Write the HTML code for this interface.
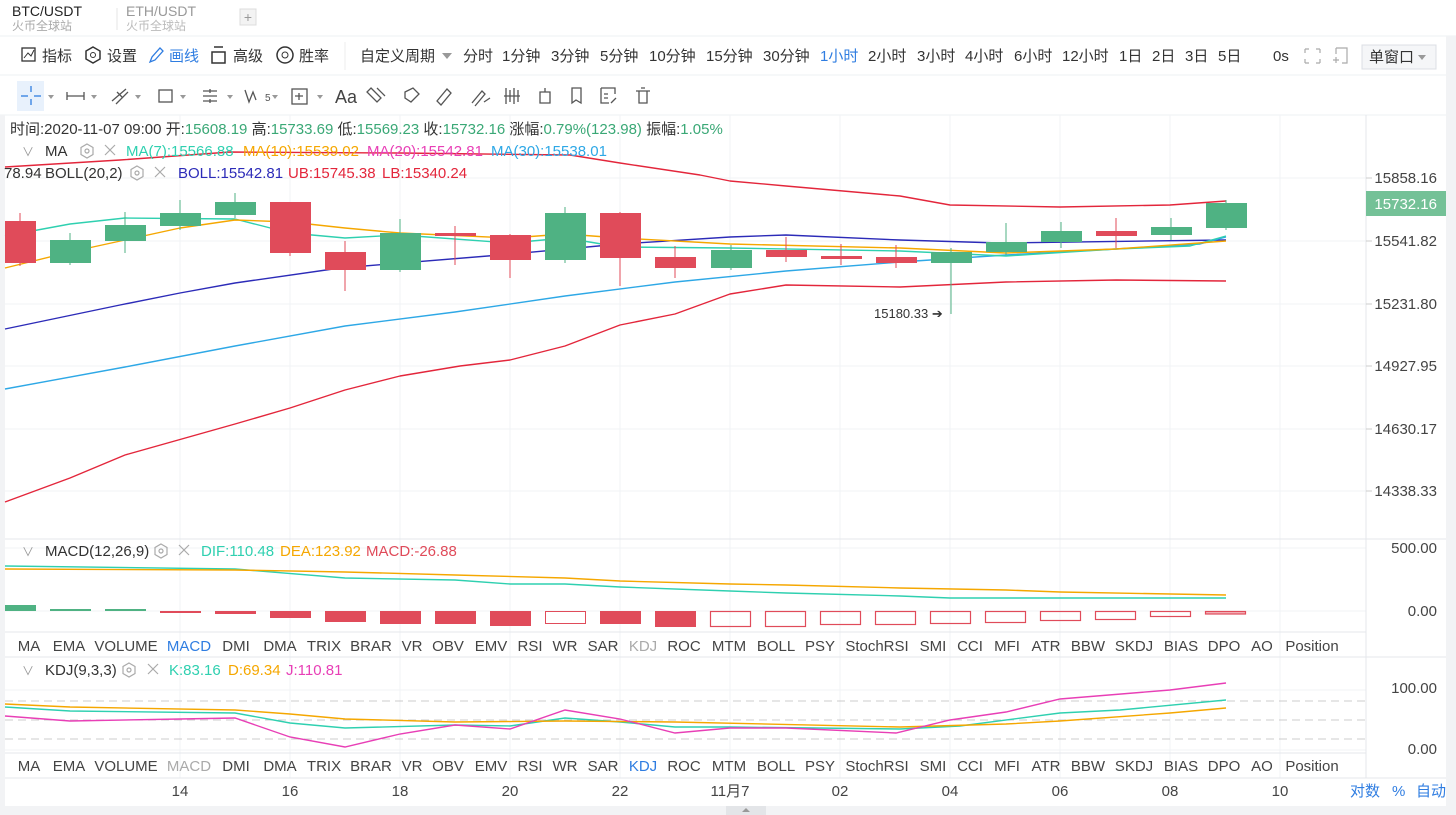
<!DOCTYPE html>
<html><head><meta charset="utf-8"><style>
html,body{margin:0;padding:0;background:#fff;}
svg{display:block;font-family:"Liberation Sans","Noto Sans CJK SC",sans-serif;}
</style></head><body>
<svg width="1456" height="815" viewBox="0 0 1456 815" xmlns="http://www.w3.org/2000/svg">
<rect width="1456" height="815" fill="#fff"/>
<!-- tabs -->
<text x="12" y="16" font-size="14" fill="#222">BTC/USDT</text>
<text x="12" y="30" font-size="12" fill="#aaa">火币全球站</text>
<line x1="117" y1="8" x2="117" y2="30" stroke="#e6e6e6"/>
<text x="126" y="16" font-size="14" fill="#999">ETH/USDT</text>
<text x="126" y="30" font-size="12" fill="#bbb">火币全球站</text>
<rect x="240" y="9" width="16" height="16" fill="#f3f3f3" stroke="#ddd"/>
<text x="248" y="22" font-size="14" fill="#999" text-anchor="middle">+</text>
<line x1="0" y1="36" x2="1456" y2="36" stroke="#eef0f3"/>
<line x1="0" y1="75" x2="1456" y2="75" stroke="#eef0f3"/>
<line x1="0" y1="115" x2="1456" y2="115" stroke="#eef0f3"/>
<!-- toolbar -->
<g font-size="15" fill="#333">
<rect x="22" y="48" width="13" height="13" fill="none" stroke="#333" stroke-width="1.3"/><polyline points="24,58 28,53 31,56 34,50" fill="none" stroke="#333"/>
<text x="42" y="61">指标</text>
<polygon points="93,47 100,51 100,59 93,63 86,59 86,51" fill="none" stroke="#333" stroke-width="1.5"/><circle cx="93" cy="55" r="2.5" fill="none" stroke="#333"/>
<text x="107" y="61">设置</text>
<path d="M150,62 l2,-5 l8,-9 l3,3 l-8,9 z" fill="none" stroke="#2f7de1" stroke-width="1.3"/>
<text x="169" y="61" fill="#2f7de1">画线</text>
<rect x="212" y="52" width="13" height="11" fill="none" stroke="#333" stroke-width="1.5"/><line x1="214" y1="47" x2="223" y2="47" stroke="#333" stroke-width="1.5"/>
<text x="233" y="61">高级</text>
<circle cx="285" cy="55" r="8" fill="none" stroke="#333" stroke-width="1.5"/><circle cx="285" cy="55" r="3" fill="none" stroke="#333"/>
<text x="299" y="61">胜率</text>
</g>
<line x1="345" y1="42" x2="345" y2="70" stroke="#eee"/>
<g font-size="15" fill="#333">
<text x="360" y="61">自定义周期</text>
<polygon points="442,53 452,53 447,59" fill="#999"/>
<text x="463" y="61">分时</text>
<text x="502" y="61">1分钟</text>
<text x="551" y="61">3分钟</text>
<text x="600" y="61">5分钟</text>
<text x="649" y="61">10分钟</text>
<text x="706" y="61">15分钟</text>
<text x="763" y="61">30分钟</text>
<text x="820" y="61" fill="#2f7de1">1小时</text>
<text x="868" y="61">2小时</text>
<text x="917" y="61">3小时</text>
<text x="965" y="61">4小时</text>
<text x="1014" y="61">6小时</text>
<text x="1062" y="61">12小时</text>
<text x="1119" y="61">1日</text>
<text x="1152" y="61">2日</text>
<text x="1185" y="61">3日</text>
<text x="1218" y="61">5日</text>
<text x="1273" y="61">0s</text>
</g>
<g stroke="#aaa" fill="none" stroke-width="1.2">
<path d="M1305,49 l4,0 M1305,49 l0,4 M1320,49 l-4,0 M1320,49 l0,4 M1305,63 l4,0 M1305,63 l0,-4 M1320,63 l-4,0 M1320,63 l0,-4"/>
<path d="M1336,48 h11 v15 h-5 M1336,48 v6 M1333,60 h6 M1336,57 v6"/>
</g>
<rect x="1362" y="45" width="74" height="24" fill="#f5f6f8" stroke="#dcdfe4"/>
<text x="1369" y="62" font-size="15" fill="#333">单窗口</text>
<polygon points="1418,55 1426,55 1422,60" fill="#999"/>
<!-- drawing toolbar -->
<rect x="17" y="81" width="27" height="30" fill="#e8f1fc"/>
<g stroke="#2f7de1" stroke-width="1.3"><line x1="31" y1="86" x2="31" y2="92"/><line x1="31" y1="99" x2="31" y2="105"/><line x1="21" y1="96" x2="28" y2="96"/><line x1="34" y1="96" x2="41" y2="96"/></g>
<g stroke="#555" fill="none" stroke-width="1.3">
<path d="M67,96 h17 M67,92 v8 M84,92 v8"/>
<path d="M112,101 l14,-12 M116,104 l12,-12 M117,92 l6,6"/>
<rect x="159" y="90" width="13" height="12"/>
<path d="M203,91 h14 M203,96 h14 M203,101 h14 M210,89 v4 M210,99 v4"/>
<path d="M245,90 l4,12 l4,-10 l3,8"/>
<rect x="292" y="89" width="15" height="15"/><path d="M299,93 v7 M295,96 h8"/>
<path d="M371,88 l10,10 l-4,4 l-10,-10 z M377,88 l8,8"/>
<path d="M405,92 l8,-4 l6,6 l-8,8 l-6,-4 z"/>
<path d="M437,101 l10,-12 l4,4 l-10,12 z"/>
<path d="M472,103 l10,-12 l3,3 l-10,12 M484,102 l6,-4"/>
<path d="M506,88 v16 M510,90 v12 M514,88 v16 M518,90 v12 M504,96 h16"/>
<path d="M540,92 h10 v11 h-10 z M545,88 v4"/>
<path d="M572,88 h9 v15 l-5,-3 l-4,3 z"/>
<path d="M601,88 h14 v6 M601,88 v15 h8 M604,94 h4 M604,98 h4 M611,103 l5,-5"/>
<path d="M636,91 h14 M639,91 v12 h8 v-12 M641,88 h4"/>
</g>
<g fill="#999"><polygon points="48,95 54,95 51,99"/><polygon points="91,95 97,95 94,99"/><polygon points="135,95 141,95 138,99"/><polygon points="180,95 186,95 183,99"/><polygon points="227,95 233,95 230,99"/><polygon points="272,95 278,95 275,99"/><polygon points="317,95 323,95 320,99"/></g>
<text x="265" y="101" font-size="10" fill="#555">5</text>
<text x="335" y="103" font-size="18" fill="#444">Aa</text>

<!-- chart grid -->
<rect x="0" y="115" width="5" height="700" fill="#f2f3f5"/>
<rect x="1446" y="36" width="10" height="779" fill="#f2f3f5"/>
<g stroke="#f1f3f6" stroke-width="1">
<line x1="5" y1="178" x2="1366" y2="178"/><line x1="5" y1="241" x2="1366" y2="241"/><line x1="5" y1="304" x2="1366" y2="304"/><line x1="5" y1="366" x2="1366" y2="366"/><line x1="5" y1="429" x2="1366" y2="429"/><line x1="5" y1="491" x2="1366" y2="491"/>
<line x1="180" y1="115" x2="180" y2="778"/><line x1="290" y1="115" x2="290" y2="778"/><line x1="400" y1="115" x2="400" y2="778"/><line x1="510" y1="115" x2="510" y2="778"/><line x1="620" y1="115" x2="620" y2="778"/><line x1="730" y1="115" x2="730" y2="778"/><line x1="840" y1="115" x2="840" y2="778"/><line x1="950" y1="115" x2="950" y2="778"/><line x1="1060" y1="115" x2="1060" y2="778"/><line x1="1170" y1="115" x2="1170" y2="778"/><line x1="1280" y1="115" x2="1280" y2="778"/>
<line x1="5" y1="548" x2="1366" y2="548"/><line x1="5" y1="611" x2="1366" y2="611"/><line x1="5" y1="690" x2="1366" y2="690"/><line x1="5" y1="750" x2="1366" y2="750"/>
</g>
<line x1="1366" y1="115" x2="1366" y2="778" stroke="#e4e7eb"/>
<line x1="5" y1="539" x2="1446" y2="539" stroke="#e4e7eb"/>
<line x1="5" y1="632" x2="1366" y2="632" stroke="#e4e7eb"/>
<line x1="5" y1="657" x2="1446" y2="657" stroke="#e4e7eb"/>
<line x1="5" y1="753" x2="1366" y2="753" stroke="#e4e7eb"/>
<line x1="5" y1="778" x2="1446" y2="778" stroke="#e4e7eb"/>

<!-- axis labels -->
<g font-size="15" fill="#444">
<text x="1437" y="183" text-anchor="end">15858.16</text>
<text x="1437" y="246" text-anchor="end">15541.82</text>
<text x="1437" y="309" text-anchor="end">15231.80</text>
<text x="1437" y="371" text-anchor="end">14927.95</text>
<text x="1437" y="434" text-anchor="end">14630.17</text>
<text x="1437" y="496" text-anchor="end">14338.33</text>
<text x="1437" y="553" text-anchor="end">500.00</text>
<text x="1437" y="616" text-anchor="end">0.00</text>
<text x="1437" y="693" text-anchor="end">100.00</text>
<text x="1437" y="754" text-anchor="end">0.00</text>
</g>
<g stroke="#ccc"><line x1="1366" y1="178" x2="1372" y2="178"/><line x1="1366" y1="241" x2="1372" y2="241"/><line x1="1366" y1="304" x2="1372" y2="304"/><line x1="1366" y1="366" x2="1372" y2="366"/><line x1="1366" y1="429" x2="1372" y2="429"/><line x1="1366" y1="491" x2="1372" y2="491"/></g>
<rect x="1366" y="191" width="80" height="25" fill="#74c197"/>
<text x="1437" y="209" font-size="15" fill="#fff" text-anchor="end">15732.16</text>

<!-- BOLL / MA lines -->
<g fill="none" stroke-width="1.4" stroke-linejoin="round">
<polyline stroke="#e3263b" points="5,167 120,160 230,152 400,153 570,155 620,163 700,175 730,181 786,186 900,196 950,205 1060,207 1170,205 1226,201"/>
<polyline stroke="#2c2bb8" points="5,329 120,305 180,293 235,283 340,268 500,255 620,244 730,237 786,235 900,240 1000,243 1226,240"/>
<polyline stroke="#e3263b" points="5,502 70,478 125,455 235,424 290,408 345,390 400,376 460,366 510,360 565,346 620,325 675,314 730,294 786,285 900,287 1006,282 1116,280 1226,281"/>
<polyline stroke="#2ea8e6" points="5,389 125,367 235,346 345,326 455,312 565,296 675,282 786,271 900,262 1006,255 1116,249 1200,244 1226,237"/>
<polyline stroke="#2fd0b0" points="5,236 70,224 125,218 235,219 290,233 345,238 400,235 510,243 565,238 620,247 730,248 900,251 1006,256 1116,249 1190,246 1226,236"/>
<polyline stroke="#f5a700" points="5,268 70,252 125,240 180,228 235,220 290,222 345,228 400,233 510,238 565,234 620,238 730,244 900,248 1006,253 1116,249 1226,241"/>
</g>

<!-- candles -->
<g>
<line x1="20" y1="213" x2="20" y2="266" stroke="#e04b5a"/><rect x="5" y="221" width="31" height="42" fill="#e04b5a"/>
<line x1="70" y1="233" x2="70" y2="265" stroke="#4fb283"/><rect x="50" y="240" width="41" height="23" fill="#4fb283"/>
<line x1="125" y1="212" x2="125" y2="253" stroke="#4fb283"/><rect x="105" y="225" width="41" height="16" fill="#4fb283"/>
<line x1="180" y1="200" x2="180" y2="230" stroke="#4fb283"/><rect x="160" y="213" width="41" height="13" fill="#4fb283"/>
<line x1="235" y1="193" x2="235" y2="218" stroke="#4fb283"/><rect x="215" y="202" width="41" height="13" fill="#4fb283"/>
<line x1="290" y1="202" x2="290" y2="256" stroke="#e04b5a"/><rect x="270" y="202" width="41" height="51" fill="#e04b5a"/>
<line x1="345" y1="241" x2="345" y2="291" stroke="#e04b5a"/><rect x="325" y="252" width="41" height="18" fill="#e04b5a"/>
<line x1="400" y1="219" x2="400" y2="272" stroke="#4fb283"/><rect x="380" y="233" width="41" height="37" fill="#4fb283"/>
<line x1="455" y1="226" x2="455" y2="265" stroke="#e04b5a"/><rect x="435" y="233" width="41" height="3" fill="#e04b5a"/>
<line x1="510" y1="234" x2="510" y2="278" stroke="#e04b5a"/><rect x="490" y="235" width="41" height="25" fill="#e04b5a"/>
<line x1="565" y1="207" x2="565" y2="263" stroke="#4fb283"/><rect x="545" y="213" width="41" height="47" fill="#4fb283"/>
<line x1="620" y1="212" x2="620" y2="286" stroke="#e04b5a"/><rect x="600" y="213" width="41" height="45" fill="#e04b5a"/>
<line x1="675" y1="246" x2="675" y2="278" stroke="#e04b5a"/><rect x="655" y="257" width="41" height="11" fill="#e04b5a"/>
<line x1="731" y1="245" x2="731" y2="270" stroke="#4fb283"/><rect x="711" y="250" width="41" height="18" fill="#4fb283"/>
<line x1="786" y1="237" x2="786" y2="262" stroke="#e04b5a"/><rect x="766" y="250" width="41" height="7" fill="#e04b5a"/>
<line x1="841" y1="244" x2="841" y2="265" stroke="#e04b5a"/><rect x="821" y="256" width="41" height="3" fill="#e04b5a"/>
<line x1="896" y1="245" x2="896" y2="268" stroke="#e04b5a"/><rect x="876" y="257" width="41" height="6" fill="#e04b5a"/>
<line x1="951" y1="248" x2="951" y2="314" stroke="#4fb283"/><rect x="931" y="252" width="41" height="11" fill="#4fb283"/>
<line x1="1006" y1="223" x2="1006" y2="255" stroke="#4fb283"/><rect x="986" y="242" width="41" height="10" fill="#4fb283"/>
<line x1="1061" y1="222" x2="1061" y2="248" stroke="#4fb283"/><rect x="1041" y="231" width="41" height="11" fill="#4fb283"/>
<line x1="1116" y1="218" x2="1116" y2="248" stroke="#e04b5a"/><rect x="1096" y="231" width="41" height="5" fill="#e04b5a"/>
<line x1="1171" y1="218" x2="1171" y2="240" stroke="#4fb283"/><rect x="1151" y="227" width="41" height="8" fill="#4fb283"/>
<line x1="1226" y1="200" x2="1226" y2="230" stroke="#4fb283"/><rect x="1206" y="203" width="41" height="25" fill="#4fb283"/>
</g>
<text x="874" y="318" font-size="13" fill="#333">15180.33 ➔</text>

<!-- legends -->
<g font-size="15">
<text x="10" y="134" fill="#333">时间:2020-11-07 09:00 开:<tspan fill="#3aa876">15608.19</tspan> 高:<tspan fill="#3aa876">15733.69</tspan> 低:<tspan fill="#3aa876">15569.23</tspan> 收:<tspan fill="#3aa876">15732.16</tspan> 涨幅:<tspan fill="#3aa876">0.79%(123.98)</tspan> 振幅:<tspan fill="#3aa876">1.05%</tspan></text>
<text x="22" y="156" fill="#999" font-size="12">∨</text>
<text x="45" y="156" fill="#333">MA</text>
<text x="126" y="156" fill="#2fd0b0">MA(7):15566.88</text>
<text x="243" y="156" fill="#f5a700">MA(10):15539.02</text>
<text x="367" y="156" fill="#e83fb6">MA(20):15542.81</text>
<text x="491" y="156" fill="#2ea8e6">MA(30):15538.01</text>
<text x="4" y="178" fill="#333">78.94</text>
<text x="45" y="178" fill="#333">BOLL(20,2)</text>
<text x="178" y="178" fill="#2c2bb8">BOLL:15542.81</text>
<text x="288" y="178" fill="#e3263b">UB:15745.38</text>
<text x="382" y="178" fill="#e3263b">LB:15340.24</text>
<text x="22" y="556" fill="#999" font-size="12">∨</text>
<text x="45" y="556" fill="#333">MACD(12,26,9)</text>
<text x="201" y="556" fill="#2fd0b0">DIF:110.48</text>
<text x="280" y="556" fill="#f5a700">DEA:123.92</text>
<text x="366" y="556" fill="#e04b5a">MACD:-26.88</text>
<text x="22" y="675" fill="#999" font-size="12">∨</text>
<text x="45" y="675" fill="#333">KDJ(9,3,3)</text>
<text x="169" y="675" fill="#2fd0b0">K:83.16</text>
<text x="228" y="675" fill="#f5a700">D:69.34</text>
<text x="286" y="675" fill="#e83fb6">J:110.81</text>
</g>
<g fill="none" stroke="#aaa" stroke-width="1.2">
<polygon points="87,144 93,147.5 93,154.5 87,158 81,154.5 81,147.5"/><circle cx="87" cy="151" r="2"/>
<path d="M105,145 l10,10 M115,145 l-10,10"/>
<polygon points="137,166 143,169.5 143,176.5 137,180 131,176.5 131,169.5"/><circle cx="137" cy="173" r="2"/>
<path d="M155,167 l10,10 M165,167 l-10,10"/>
<polygon points="161,544 167,547.5 167,554.5 161,558 155,554.5 155,547.5"/><circle cx="161" cy="551" r="2"/>
<path d="M179,545 l10,10 M189,545 l-10,10"/>
<polygon points="129,663 135,666.5 135,673.5 129,677 123,673.5 123,666.5"/><circle cx="129" cy="670" r="2"/>
<path d="M148,664 l10,10 M158,664 l-10,10"/>
</g>

<!-- MACD -->
<g fill="none" stroke-width="1.4">
<polyline stroke="#2fd0b0" points="5,566 235,569 345,578 455,580 510,584 565,584 620,587 730,591 786,593 900,596 950,598 1060,598 1226,598"/>
<polyline stroke="#f5a700" points="5,569 235,570 345,572 455,575 565,578 620,581 730,584 786,585 900,588 1006,590 1060,592 1226,595"/>
</g>
<g fill="#e04b5a">
<rect x="5" y="605" width="31" height="6" fill="#4fb283"/>
<rect x="50" y="609" width="41" height="2" fill="#4fb283"/>
<rect x="105" y="609" width="41" height="2" fill="#4fb283"/>
<rect x="160" y="611" width="41" height="2"/>
<rect x="215" y="611" width="41" height="3"/>
<rect x="270" y="611" width="41" height="7"/>
<rect x="325" y="611" width="41" height="11"/>
<rect x="380" y="611" width="41" height="13"/>
<rect x="435" y="611" width="41" height="13"/>
<rect x="490" y="611" width="41" height="15"/>
<rect x="545.5" y="611.5" width="40" height="12" fill="none" stroke="#e04b5a"/>
<rect x="600" y="611" width="41" height="13"/>
<rect x="655" y="611" width="41" height="16"/>
</g>
<g fill="none" stroke="#e04b5a" stroke-width="1.2">
<rect x="710.5" y="611.5" width="40" height="15"/>
<rect x="765.5" y="611.5" width="40" height="15"/>
<rect x="820.5" y="611.5" width="40" height="13"/>
<rect x="875.5" y="611.5" width="40" height="13"/>
<rect x="930.5" y="611.5" width="40" height="12"/>
<rect x="985.5" y="611.5" width="40" height="11"/>
<rect x="1040.5" y="611.5" width="40" height="9"/>
<rect x="1095.5" y="611.5" width="40" height="8"/>
<rect x="1150.5" y="611.5" width="40" height="5"/>
<rect x="1205.5" y="611.5" width="40" height="2.5" fill="#f4b8bf"/>
</g>

<!-- KDJ -->
<g stroke="#ccc" stroke-dasharray="8,5"><line x1="5" y1="701" x2="1366" y2="701"/><line x1="5" y1="720" x2="1366" y2="720"/><line x1="5" y1="739" x2="1366" y2="739"/></g>
<g fill="none" stroke-width="1.4">
<polyline stroke="#2fd0b0" points="5,707 70,711 235,713 290,723 345,728 455,725 510,726 565,718 620,722 675,727 730,727 900,729 960,726 1060,713 1120,710 1226,700"/>
<polyline stroke="#f5a700" points="5,704 70,707 235,710 290,714 345,719 455,722 565,721 675,722 900,727 1006,724 1060,721 1170,713 1226,708"/>
<polyline stroke="#e83fb6" points="5,716 70,721 180,719 235,718 290,737 345,747 400,734 455,725 510,729 565,710 620,719 675,733 730,728 786,728 896,733 950,720 1006,712 1060,699 1170,690 1226,683"/>
</g>

<!-- indicator tab rows -->
<g font-size="15" fill="#444" text-anchor="middle">
<text x="29" y="651">MA</text><text x="69" y="651">EMA</text><text x="126" y="651">VOLUME</text><text x="189" y="651" fill="#2f7de1">MACD</text><text x="236" y="651">DMI</text><text x="280" y="651">DMA</text><text x="324" y="651">TRIX</text><text x="371" y="651">BRAR</text><text x="412" y="651">VR</text><text x="448" y="651">OBV</text><text x="491" y="651">EMV</text><text x="530" y="651">RSI</text><text x="565" y="651">WR</text><text x="603" y="651">SAR</text><text x="643" y="651" fill="#aaa">KDJ</text><text x="684" y="651">ROC</text><text x="729" y="651">MTM</text><text x="776" y="651">BOLL</text><text x="820" y="651">PSY</text><text x="877" y="651">StochRSI</text><text x="933" y="651">SMI</text><text x="970" y="651">CCI</text><text x="1007" y="651">MFI</text><text x="1046" y="651">ATR</text><text x="1088" y="651">BBW</text><text x="1134" y="651">SKDJ</text><text x="1181" y="651">BIAS</text><text x="1224" y="651">DPO</text><text x="1262" y="651">AO</text><text x="1312" y="651">Position</text>
<text x="29" y="771">MA</text><text x="69" y="771">EMA</text><text x="126" y="771">VOLUME</text><text x="189" y="771" fill="#aaa">MACD</text><text x="236" y="771">DMI</text><text x="280" y="771">DMA</text><text x="324" y="771">TRIX</text><text x="371" y="771">BRAR</text><text x="412" y="771">VR</text><text x="448" y="771">OBV</text><text x="491" y="771">EMV</text><text x="530" y="771">RSI</text><text x="565" y="771">WR</text><text x="603" y="771">SAR</text><text x="643" y="771" fill="#2f7de1">KDJ</text><text x="684" y="771">ROC</text><text x="729" y="771">MTM</text><text x="776" y="771">BOLL</text><text x="820" y="771">PSY</text><text x="877" y="771">StochRSI</text><text x="933" y="771">SMI</text><text x="970" y="771">CCI</text><text x="1007" y="771">MFI</text><text x="1046" y="771">ATR</text><text x="1088" y="771">BBW</text><text x="1134" y="771">SKDJ</text><text x="1181" y="771">BIAS</text><text x="1224" y="771">DPO</text><text x="1262" y="771">AO</text><text x="1312" y="771">Position</text>
</g>
<!-- date axis -->
<g font-size="15" fill="#444" text-anchor="middle">
<text x="180" y="796">14</text><text x="290" y="796">16</text><text x="400" y="796">18</text><text x="510" y="796">20</text><text x="620" y="796">22</text><text x="730" y="796">11月7</text><text x="840" y="796">02</text><text x="950" y="796">04</text><text x="1060" y="796">06</text><text x="1170" y="796">08</text><text x="1280" y="796">10</text>
</g>
<g font-size="15" fill="#2f7de1"><text x="1350" y="796">对数</text><text x="1392" y="796">%</text><text x="1416" y="796">自动</text></g>
<rect x="0" y="806" width="1456" height="9" fill="#f2f3f5"/>
<rect x="726" y="806" width="40" height="9" fill="#e3e5e8"/>
<polygon points="742,812 750,812 746,808" fill="#999"/>
</svg>
</body></html>
